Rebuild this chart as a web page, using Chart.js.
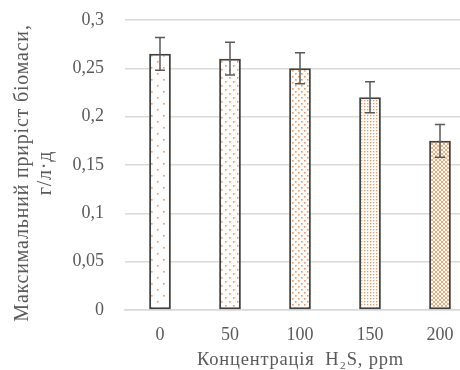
<!DOCTYPE html>
<html>
<head>
<meta charset="utf-8">
<script src="https://cdn.jsdelivr.net/npm/chart.js@4/dist/chart.umd.min.js"></script>
<style>
  html, body { margin: 0; padding: 0; background: #fff; overflow: hidden; }
  #wrap { width: 475px; height: 370px; }
</style>
</head>
<body>
<div id="wrap"><canvas id="chart" width="475" height="370"></canvas></div>
<script>
// Дані діаграми
const categories = ['0', '50', '100', '150', '200'];
const growth = [0.265, 0.26, 0.25, 0.22, 0.175];
const errors = [0.017, 0.017, 0.016, 0.016, 0.017];
const yTicks = [0, 0.05, 0.1, 0.15, 0.2, 0.25, 0.3];
const yTitle = ['Максимальний приріст біомаси,', 'г/л·д'];
const xTitle = 'Концентрація  H₂S, ppm';

const ORANGE = '#ED7D31';
const TEXT = '#595959';
const fontFamily = '"Liberation Serif", "Times New Roman", serif';

// Візерунки заливки (як у Excel)
function makePattern(size, draw) {
  const c = document.createElement('canvas');
  c.width = size; c.height = size;
  const g = c.getContext('2d');
  g.fillStyle = '#fff';
  g.fillRect(0, 0, size, size);
  g.fillStyle = ORANGE;
  g.strokeStyle = ORANGE;
  draw(g);
  return document.getElementById('chart').getContext('2d').createPattern(c, 'repeat');
}
function dot(g, x, y, r) {
  g.globalAlpha = 0.8;
  g.fillRect(x, y, r, r);
  g.globalAlpha = 1;
}
const patterns = [
  makePattern(12, g => { dot(g, 1, 1, 1.6); dot(g, 7, 7, 1.6); }),
  makePattern(8, g => { dot(g, 1, 1, 1.6); dot(g, 5, 5, 1.6); }),
  makePattern(6, g => { dot(g, 1, 1, 1.6); dot(g, 4, 4, 1.6); }),
  makePattern(3, g => { dot(g, 1, 1, 1.3); }),
  makePattern(4, g => {
    g.globalAlpha = 0.65; g.lineWidth = 1;
    g.beginPath();
    g.moveTo(0, 0); g.lineTo(4, 4);
    g.moveTo(4, 0); g.lineTo(0, 4);
    g.stroke();
    g.globalAlpha = 1;
  }),
];

// Планки похибок
const errorBars = {
  id: 'errorBars',
  afterDatasetsDraw(chart) {
    const ctx = chart.ctx;
    const y = chart.scales.y;
    const meta = chart.getDatasetMeta(0);
    ctx.save();
    ctx.strokeStyle = '#595959';
    ctx.lineWidth = 1.5;
    meta.data.forEach((bar, i) => {
      const x = bar.x;
      const top = y.getPixelForValue(growth[i] + errors[i]);
      const bot = y.getPixelForValue(growth[i] - errors[i]);
      ctx.beginPath();
      ctx.moveTo(x, top); ctx.lineTo(x, bot);
      ctx.moveTo(x - 5, top); ctx.lineTo(x + 5, top);
      ctx.moveTo(x - 5, bot); ctx.lineTo(x + 5, bot);
      ctx.stroke();
    });
    ctx.restore();
  }
};

// Назви осей з розрядкою літер
const axisTitles = {
  id: 'axisTitles',
  afterDraw(chart) {
    const ctx = chart.ctx;
    const a = chart.chartArea;
    ctx.save();
    ctx.fillStyle = TEXT;
    ctx.textAlign = 'center';
    ctx.textBaseline = 'middle';
    ctx.letterSpacing = '0.8px';
    ctx.font = `18.5px ${fontFamily}`;
    ctx.fillText(xTitle, (a.left + 460) / 2 + 8, 360);
    ctx.translate(0, (a.top + a.bottom) / 2 + 8);
    ctx.rotate(-Math.PI / 2);
    ctx.font = `20px ${fontFamily}`;
    ctx.fillText(yTitle[0], 0, 23);
    ctx.fillText(yTitle[1], 0, 46);
    ctx.restore();
  }
};

new Chart(document.getElementById('chart'), {
  type: 'bar',
  data: {
    labels: categories,
    datasets: [{
      data: growth,
      backgroundColor: patterns,
      borderColor: '#404040',
      borderWidth: 2,
      borderSkipped: false,
      categoryPercentage: 1,
      barPercentage: 0.31,
    }],
  },
  options: {
    responsive: false,
    animation: false,
    layout: { padding: { top: 20, right: 0, bottom: 0, left: 0 } },
    plugins: { legend: { display: false }, tooltip: { enabled: false } },
    scales: {
      x: {
        afterFit: s => { s.height = 60; s.paddingLeft = 0; s.paddingRight = 0; },
        grid: { display: false },
        border: { color: '#d9d9d9', width: 1.5 },
        ticks: { color: TEXT, font: { family: fontFamily, size: 18 }, padding: 6 },
      },
      y: {
        min: 0,
        max: 0.3,
        afterFit: s => { s.width = 125; s.paddingTop = 0; s.paddingBottom = 0; },
        afterBuildTicks: s => { s.ticks = yTicks.map(v => ({ value: v })); },
        grid: { color: '#d9d9d9', lineWidth: 1.5, drawTicks: false },
        border: { display: false },
        ticks: {
          color: TEXT,
          font: { family: fontFamily, size: 18 },
          padding: 21,
          callback: v => String(Math.round(v * 100) / 100).replace('.', ','),
        },
      },
    },
  },
  plugins: [errorBars, axisTitles],
});
</script>
</body>
</html>
